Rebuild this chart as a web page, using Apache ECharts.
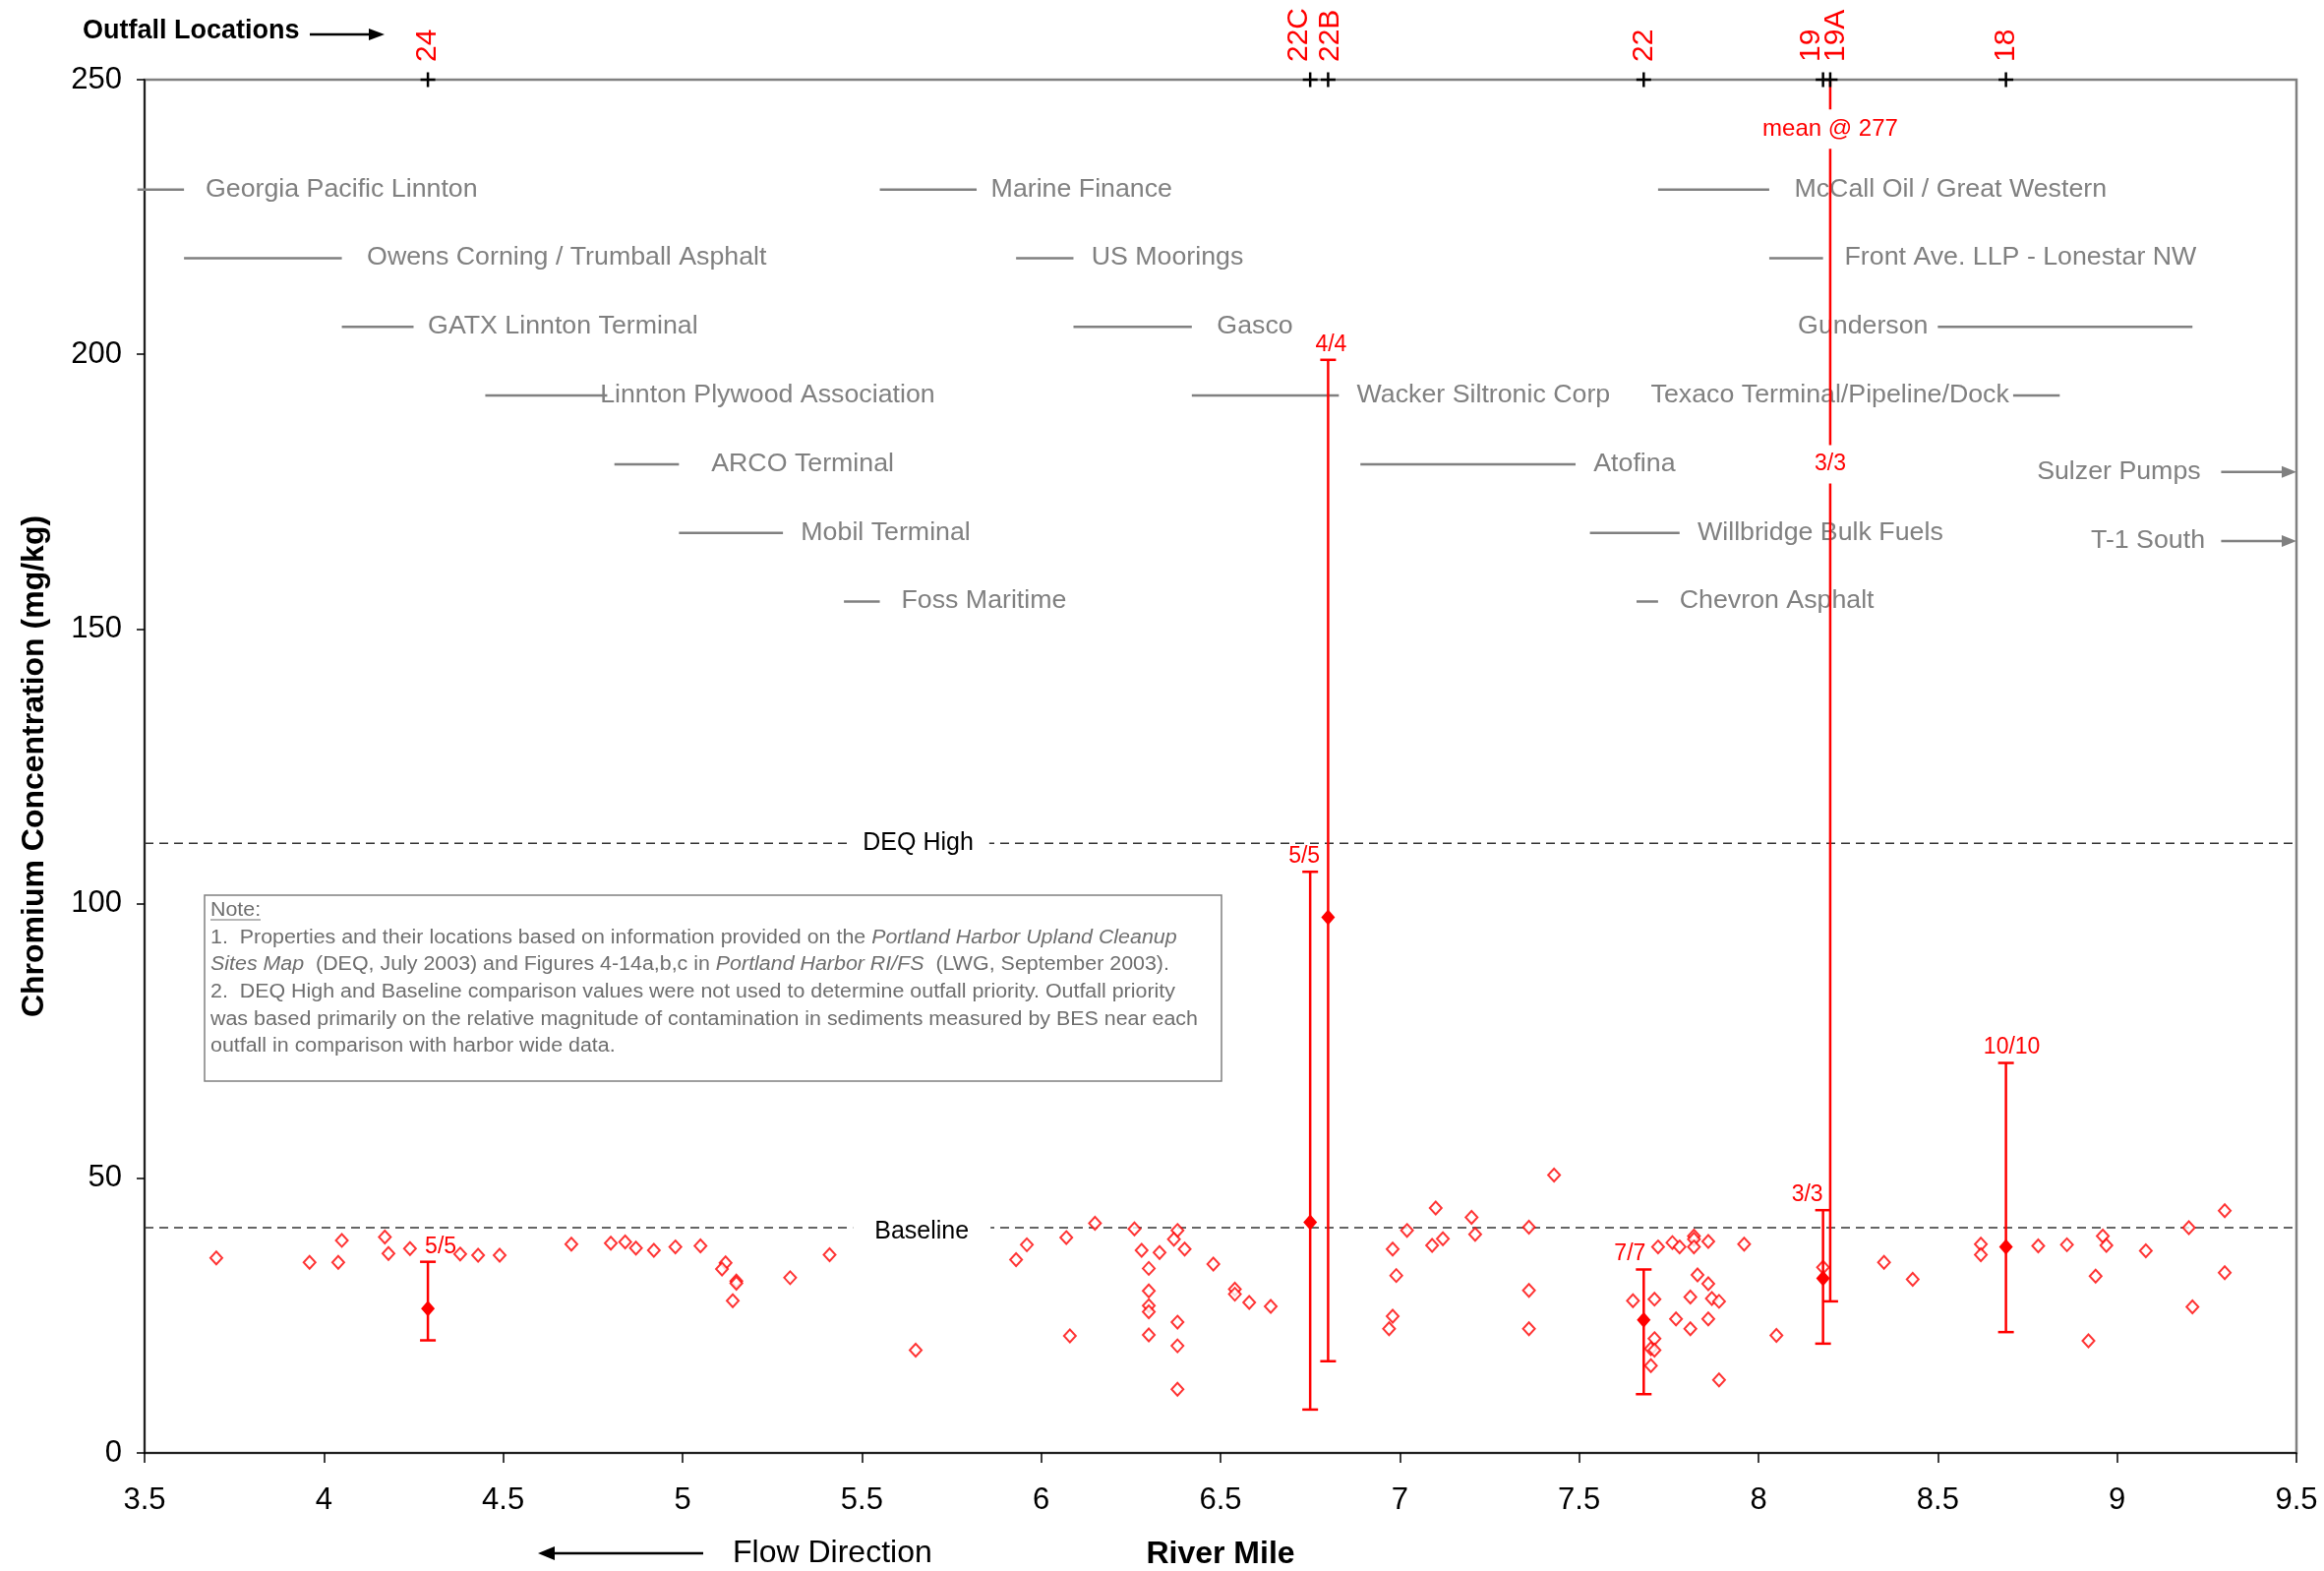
<!DOCTYPE html>
<html>
<head>
<meta charset="utf-8">
<title>Chromium Concentration by River Mile</title>
<script src="https://cdn.jsdelivr.net/npm/echarts@6/dist/echarts.min.js"></script>
<style>
  html, body { margin: 0; padding: 0; background: #ffffff; }
  #chart { width: 2363px; height: 1597px; }
</style>
</head>
<body>
<div id="chart"></div>
<script>
// ---------------------------------------------------------------------------
// Data
// ---------------------------------------------------------------------------

// Harbor-wide sediment samples: river mile and chromium (mg/kg)
const sampleMiles = [
  3.70, 3.96, 4.04, 4.05, 4.17, 4.18, 4.24, 4.38, 4.43, 4.49, 4.69, 4.80, 4.84,
  4.87, 4.92, 4.98, 5.05, 5.12, 5.11, 5.15, 5.15, 5.14, 5.30, 5.41, 5.65,
  5.93, 5.96, 6.07, 6.08, 6.15, 6.26, 6.28, 6.30, 6.30, 6.30, 6.30, 6.30, 6.33,
  6.38, 6.37, 6.40, 6.38, 6.38, 6.38, 6.48, 6.54, 6.54, 6.58, 6.64,
  6.98, 6.99, 6.98, 6.97, 7.02, 7.10, 7.09, 7.12, 7.20, 7.21, 7.36, 7.36, 7.36, 7.43,
  7.65, 7.71, 7.72, 7.76, 7.78, 7.82, 7.82, 7.82, 7.86, 7.96, 7.83, 7.86, 7.81,
  7.87, 7.89, 7.77, 7.81, 7.86, 7.71, 7.70, 7.71, 7.70, 7.89, 8.05, 8.18,
  8.35, 8.43, 8.62, 8.62, 8.78, 8.86, 8.96, 8.97, 8.94, 8.92, 9.08, 9.20, 9.21, 9.30, 9.30
];
const sampleChromium = [
  35.5, 34.7, 34.7, 38.7, 39.3, 36.3, 37.2, 36.2, 36.0, 36.0, 38.0, 38.2, 38.4,
  37.3, 36.9, 37.5, 37.7, 34.6, 33.5, 31.3, 30.9, 27.7, 31.9, 36.1, 18.7,
  35.2, 37.9, 39.2, 21.3, 41.8, 40.8, 36.9, 33.6, 29.5, 26.8, 25.7, 21.5, 36.5,
  40.5, 38.9, 37.1, 23.8, 19.5, 11.6, 34.4, 29.8, 28.9, 27.4, 26.7,
  37.1, 32.3, 24.9, 22.6, 40.5, 44.6, 37.8, 39.0, 42.9, 39.8, 41.1, 29.6, 22.6, 50.6,
  27.7, 28.0, 37.5, 38.3, 37.5, 39.5, 38.9, 37.5, 38.5, 38.0, 32.4, 30.8, 28.4,
  28.1, 27.6, 24.4, 22.6, 24.4, 20.8, 19.0, 18.7, 15.9, 13.3, 21.4, 33.8,
  34.7, 31.6, 38.0, 36.1, 37.7, 37.9, 39.5, 37.8, 32.2, 20.4, 36.8, 41.0, 26.6, 44.1, 32.8
];

// BES samples near each outfall: mean with min/max range, detects/samples
const outfallNames  = ['24', '22C', '22B', '22', '19', '19A', '18'];
const outfallMiles  = [4.29, 6.75, 6.80, 7.68, 8.18, 8.20, 8.69];
const outfallMeans  = [26.3, 42.0, 97.5, 24.2, 31.8, 277, 37.5];
const outfallMins   = [20.5, 7.9, 16.7, 10.7, 19.9, 27.6, 22.0];
const outfallMaxes  = [34.8, 105.8, 199.0, 33.4, 44.2, null, 71.0]; // null: above 250
const outfallCounts = ['5/5', '5/5', '4/4', '7/7', '3/3', '3/3', '10/10'];

// Comparison values (mg/kg)
const deqHigh = 111;
const baseline = 41;

// Upland properties along the river: frontage (river mile range)
const propertyNames = [
  'Georgia Pacific Linnton', 'Owens Corning / Trumball Asphalt', 'GATX Linnton Terminal',
  'Linnton Plywood Association', 'ARCO Terminal', 'Mobil Terminal', 'Foss Maritime',
  'Marine Finance', 'US Moorings', 'Gasco', 'Wacker Siltronic Corp', 'Atofina',
  'Willbridge Bulk Fuels', 'Chevron Asphalt', 'McCall Oil / Great Western',
  'Front Ave. LLP - Lonestar NW', 'Gunderson', 'Texaco Terminal/Pipeline/Dock'
];
const propertyFrom = [3.48, 3.61, 4.05, 4.45, 4.81, 4.99, 5.45, 5.55, 5.93, 6.09, 6.42, 6.89, 7.53, 7.66, 7.72, 8.03, 8.50, 8.71];
const propertyTo   = [3.61, 4.05, 4.25, 4.79, 4.99, 5.28, 5.55, 5.82, 6.09, 6.42, 6.83, 7.49, 7.78, 7.72, 8.03, 8.18, 9.21, 8.84];

// Properties downstream of the plotted reach
const offChartNames = ['Sulzer Pumps', 'T-1 South'];

// ---------------------------------------------------------------------------
// Layout (label placement, in axis units)
// ---------------------------------------------------------------------------
const propertyRow   = [230, 217.5, 205, 192.5, 180, 167.5, 155, 230, 217.5, 205, 192.5, 180, 167.5, 155, 230, 217.5, 205, 192.5];
const propertyTextX = [3.67, 4.12, 4.29, 4.77, 5.08, 5.33, 5.61, 5.86, 6.14, 6.49, 6.88, 7.54, 7.83, 7.78, 8.10, 8.24, 8.11, 7.70];
const offChartRow   = [178.6, 166];
const offChartTextEnd = [9.233, 9.245];
const offChartArrowFrom = 9.29;

const countLabelPlace = {
  '24':  { align: 'left',   dx: -3 },
  '22C': { align: 'center', dx: -6 },
  '22B': { align: 'center', dx: 3 },
  '22':  { align: 'right',  dx: 2 },
  '19':  { align: 'right',  dx: 0 },
  '19A': { align: 'center', dx: 0, at: 180 },
  '18':  { align: 'center', dx: 6 }
};
const meanNoteAt = 241;
const outfallNameShift = { '22C': -11, '22B': 2, '19': -12, '19A': 6 };
const refLabelAt = [[5.657, 111], [5.667, 40.2]];

const FONT = '"Liberation Sans", Arial, Helvetica, sans-serif';
const RED = '#ff0000';
const GRAY = '#808080';
const NOTE_GRAY = '#6e6e6e';
const WIDE = 1.07;   // slightly widened lettering for the annotation text
const Y_MAX = 250;

// ---------------------------------------------------------------------------
// Drawing helpers
// ---------------------------------------------------------------------------
function hLine(x1, x2, y, color, w) {
  return { type: 'line', shape: { x1: x1, y1: y, x2: x2, y2: y }, style: { stroke: color, lineWidth: w } };
}

function renderProperty(params, api) {
  const i = params.dataIndex;
  const a = api.coord([api.value(0), api.value(2)]);
  const b = api.coord([api.value(1), api.value(2)]);
  const t = api.coord([api.value(3), api.value(2)]);
  return {
    type: 'group',
    children: [
      hLine(a[0], b[0], a[1], GRAY, 2.5),
      { type: 'text', x: t[0], y: t[1], scaleX: WIDE,
        style: { text: propertyNames[i], fill: GRAY, font: '25px ' + FONT, align: 'left', verticalAlign: 'middle' } }
    ]
  };
}

function renderOffChart(params, api) {
  const i = params.dataIndex;
  const y = api.value(1);
  const t = api.coord([api.value(0), y]);
  const a = api.coord([offChartArrowFrom, y]);
  const b = api.coord([9.5, y]);
  return {
    type: 'group',
    children: [
      hLine(a[0], b[0] - 12, a[1], GRAY, 2.5),
      { type: 'polygon', shape: { points: [[b[0], b[1]], [b[0] - 15, b[1] - 6], [b[0] - 15, b[1] + 6]] },
        style: { fill: GRAY } },
      { type: 'text', x: t[0], y: t[1], scaleX: WIDE,
        style: { text: offChartNames[i], fill: GRAY, font: '25px ' + FONT, align: 'right', verticalAlign: 'middle' } }
    ]
  };
}

function renderRefLabel(params, api) {
  const p = api.coord([api.value(0), api.value(1)]);
  const names = ['DEQ High', 'Baseline'];
  const pads = [[2, 16], [2, 22]];
  const i = params.dataIndex;
  return {
    type: 'text', x: p[0], y: p[1],
    style: { text: names[i], fill: '#000', font: '25px ' + FONT, align: 'center', verticalAlign: 'middle',
             backgroundColor: '#ffffff', padding: pads[i] }
  };
}

function renderOutfall(params, api) {
  const i = params.dataIndex;
  const mile = api.value(0);
  const mean = api.value(1);
  const lo = api.value(2);
  const hi = outfallMaxes[i];
  const beyond = hi === null || hi > Y_MAX;
  const x = api.coord([mile, 0])[0];
  const yLo = api.coord([mile, lo])[1];
  const yHi = api.coord([mile, beyond ? Y_MAX : hi])[1];
  const children = [
    { type: 'line', shape: { x1: x, y1: yLo, x2: x, y2: yHi }, style: { stroke: RED, lineWidth: 2.5 } },
    hLine(x - 8, x + 8, yLo, RED, 2.5)
  ];
  if (!beyond) children.push(hLine(x - 8, x + 8, yHi, RED, 2.5));
  if (mean <= Y_MAX) {
    const m = api.coord([mile, mean]);
    children.push({ type: 'polygon',
      shape: { points: [[m[0], m[1] - 8], [m[0] + 7, m[1]], [m[0], m[1] + 8], [m[0] - 7, m[1]]] },
      style: { fill: RED } });
  } else {
    const n = api.coord([mile, meanNoteAt]);
    children.push({ type: 'text', x: n[0], y: n[1], z2: 10,
      style: { text: 'mean @ ' + mean, fill: RED, font: '24px ' + FONT, align: 'center', verticalAlign: 'middle',
               backgroundColor: '#ffffff', padding: [8, 2] } });
  }
  const place = countLabelPlace[outfallNames[i]];
  if (place.at !== undefined) {
    const c = api.coord([mile, place.at]);
    children.push({ type: 'text', x: c[0] + place.dx, y: c[1], z2: 10,
      style: { text: outfallCounts[i], fill: RED, font: '23px ' + FONT, align: 'center', verticalAlign: 'middle',
               backgroundColor: '#ffffff', padding: [8, 2] } });
  } else {
    children.push({ type: 'text', x: x + place.dx, y: yHi - 4, z2: 10,
      style: { text: outfallCounts[i], fill: RED, font: '23px ' + FONT, align: place.align, verticalAlign: 'bottom' } });
  }
  return { type: 'group', children: children };
}

function renderOutfallMarker(params, api) {
  const i = params.dataIndex;
  const p = api.coord([api.value(0), Y_MAX]);
  const shift = outfallNameShift[outfallNames[i]] || 0;
  return {
    type: 'group',
    children: [
      hLine(p[0] - 7.5, p[0] + 7.5, p[1], '#000', 2.5),
      { type: 'line', shape: { x1: p[0], y1: p[1] - 7.5, x2: p[0], y2: p[1] + 7.5 }, style: { stroke: '#000', lineWidth: 2.5 } },
      { type: 'text', x: p[0] + shift, y: p[1] - 18, rotation: Math.PI / 2,
        style: { text: outfallNames[i], fill: RED, font: '30px ' + FONT, align: 'left', verticalAlign: 'middle' } }
    ]
  };
}

// ---------------------------------------------------------------------------
// Chart
// ---------------------------------------------------------------------------
const chart = echarts.init(document.getElementById('chart'));

const noteText =
  '1.  Properties and their locations based on information provided on the {i|Portland Harbor Upland Cleanup}\n' +
  '{i|Sites Map}  (DEQ, July 2003) and Figures 4-14a,b,c in {i|Portland Harbor RI/FS}  (LWG, September 2003).\n' +
  '2.  DEQ High and Baseline comparison values were not used to determine outfall priority. Outfall priority\n' +
  'was based primarily on the relative magnitude of contamination in sediments measured by BES near each\n' +
  'outfall in comparison with harbor wide data.';

chart.setOption({
  animation: false,
  backgroundColor: '#ffffff',
  grid: {
    left: 147, right: 28, top: 81, bottom: 120,
    outerBoundsMode: 'none', containLabel: false,
    show: true, borderColor: GRAY, borderWidth: 2.5
  },
  xAxis: {
    type: 'value', min: 3.5, max: 9.5, interval: 0.5,
    name: 'River Mile', nameLocation: 'middle', nameGap: 87,
    nameTextStyle: { fontFamily: FONT, fontSize: 32, fontWeight: 'bold', color: '#000' },
    axisLine: { show: true, onZero: false, lineStyle: { color: '#000', width: 1.5 } },
    axisTick: { show: true, length: 10, lineStyle: { color: '#000', width: 1.5 } },
    axisLabel: { fontFamily: FONT, fontSize: 31, color: '#000', margin: 33 },
    splitLine: { show: false }
  },
  yAxis: {
    type: 'value', min: 0, max: Y_MAX, interval: 50,
    name: 'Chromium Concentration (mg/kg)', nameLocation: 'middle', nameGap: 96,
    nameTextStyle: { fontFamily: FONT, fontSize: 32, fontWeight: 'bold', color: '#000' },
    axisLine: { show: true, lineStyle: { color: '#000', width: 1.5 } },
    axisTick: { show: true, length: 8, lineStyle: { color: '#000', width: 1.5 } },
    axisLabel: { fontFamily: FONT, fontSize: 31, color: '#000', margin: 23 },
    splitLine: { show: false }
  },
  series: [
    {
      name: 'Properties', type: 'custom', silent: true, z: 2,
      data: propertyNames.map((n, i) => [propertyFrom[i], propertyTo[i], propertyRow[i], propertyTextX[i]]),
      renderItem: renderProperty
    },
    {
      name: 'Downstream properties', type: 'custom', silent: true, z: 2,
      data: offChartNames.map((n, i) => [offChartTextEnd[i], offChartRow[i]]),
      renderItem: renderOffChart
    },
    {
      name: 'DEQ High', type: 'line', silent: true, z: 2, showSymbol: false,
      data: [[3.5, deqHigh], [9.5, deqHigh]],
      lineStyle: { color: '#333333', width: 1.5, type: [9, 6] }
    },
    {
      name: 'Baseline', type: 'line', silent: true, z: 2, showSymbol: false,
      data: [[3.5, baseline], [9.5, baseline]],
      lineStyle: { color: '#333333', width: 1.5, type: [9, 6] }
    },
    {
      name: 'Reference labels', type: 'custom', silent: true, z: 3,
      data: refLabelAt,
      renderItem: renderRefLabel
    },
    {
      name: 'Samples', type: 'scatter', z: 4,
      data: sampleMiles.map((m, i) => [m, sampleChromium[i]]),
      symbol: 'diamond', symbolSize: [12, 13],
      itemStyle: { color: '#ffffff', borderColor: RED, borderWidth: 2 }
    },
    {
      name: 'Outfall samples', type: 'custom', silent: true, z: 5,
      data: outfallMiles.map((m, i) => [m, outfallMeans[i], outfallMins[i]]),
      renderItem: renderOutfall
    },
    {
      name: 'Outfall locations', type: 'custom', silent: true, z: 6,
      data: outfallMiles.map(m => [m]),
      renderItem: renderOutfallMarker
    }
  ],
  graphic: [
    { type: 'text', x: 84, y: 32, z: 10,
      style: { text: 'Outfall Locations', fill: '#000', font: 'bold 27px ' + FONT, verticalAlign: 'middle' } },
    { type: 'line', z: 10, shape: { x1: 315, y1: 35, x2: 378, y2: 35 }, style: { stroke: '#000', lineWidth: 2.5 } },
    { type: 'polygon', z: 10, shape: { points: [[391, 35], [375, 29], [375, 41]] }, style: { fill: '#000' } },

    { type: 'text', x: 745, y: 1579, z: 10,
      style: { text: 'Flow Direction', fill: '#000', font: '32px ' + FONT, verticalAlign: 'middle' } },
    { type: 'line', z: 10, shape: { x1: 562, y1: 1579, x2: 715, y2: 1579 }, style: { stroke: '#000', lineWidth: 2.5 } },
    { type: 'polygon', z: 10, shape: { points: [[547, 1579], [564, 1572], [564, 1586]] }, style: { fill: '#000' } },

    { type: 'rect', z: 10, shape: { x: 208, y: 910, width: 1034, height: 189 },
      style: { fill: '#ffffff', stroke: GRAY, lineWidth: 1.5 } },
    { type: 'text', z: 11, x: 214, y: 912, scaleX: WIDE,
      style: { text: 'Note:', fill: NOTE_GRAY, font: '20px ' + FONT, lineHeight: 27.6, verticalAlign: 'top' } },
    { type: 'line', z: 11, shape: { x1: 214, y1: 935, x2: 265, y2: 935 }, style: { stroke: NOTE_GRAY, lineWidth: 1 } },
    { type: 'text', z: 11, x: 214, y: 939.5, scaleX: WIDE,
      style: {
        text: noteText, fill: NOTE_GRAY, font: '20px ' + FONT, lineHeight: 27.6, verticalAlign: 'top',
        rich: { i: { fontStyle: 'italic', fontSize: 20, fontFamily: FONT, fill: NOTE_GRAY, lineHeight: 27.6 } }
      } }
  ]
});
</script>
</body>
</html>
